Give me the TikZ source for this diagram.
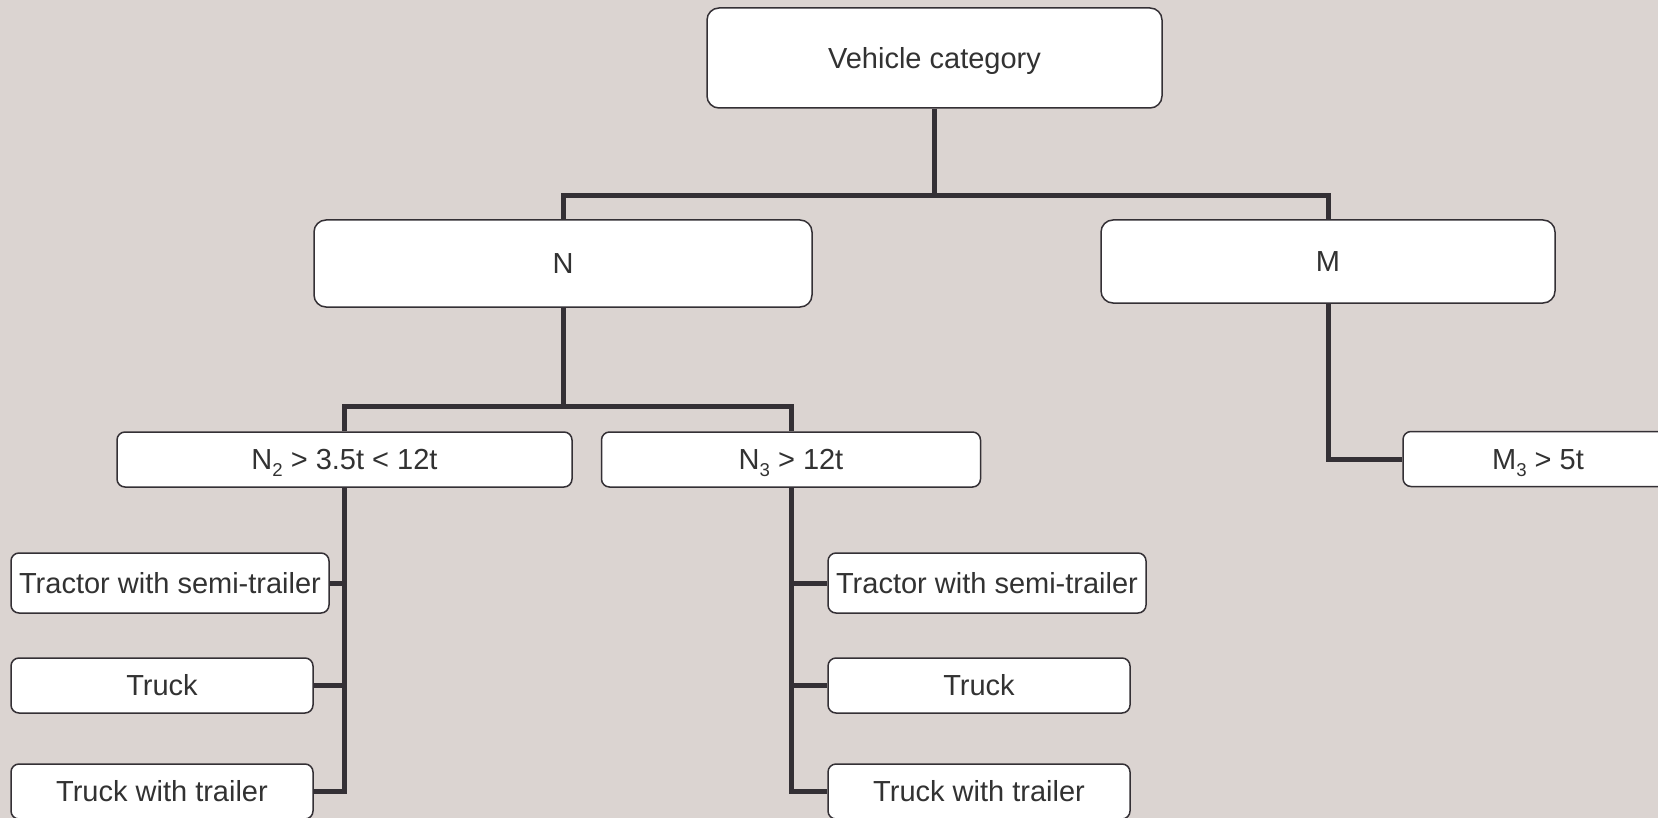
\documentclass[tikz,border=0pt]{standalone}
\usepackage{fontspec}
\setmainfont{Liberation Sans}
\usetikzlibrary{positioning,calc}
\definecolor{vcbg}{RGB}{219,212,209}
\definecolor{vcline}{RGB}{52,48,53}
\definecolor{vctext}{RGB}{50,50,50}
\newcommand\catsub[1]{\raisebox{-3.3pt}{\fontsize{9.3}{10}\selectfont#1}}
\tikzset{catbox/.style={draw=vcline,fill=white,rounded corners=6pt,line width=.75pt,inner sep=0pt,align=center,text=vctext,text height=10.4pt,text depth=0pt,font=\fontsize{14.5}{17}\selectfont},
  subbox/.style={catbox,rounded corners=4pt,minimum height=27.5pt},
  branch/.style={vcline,line width=2.5pt}}

\begin{document}
\begin{tikzpicture}[x=.5pt,y=-.5pt]
\fill[vcbg] (0,0) rectangle (1658,818);
\useasboundingbox (0,0) rectangle (1658,818);
% top levels
\node[catbox,minimum width=227.5pt,minimum height=50pt] (veh) at (934.5,58) {Vehicle category};
\node[catbox,minimum width=249pt,minimum height=43.5pt] (ncat) at (563,263.5) {N};
\node[catbox,minimum width=227pt,minimum height=41.5pt] (mcat) at (1328,261.5) {M};
\node[subbox,minimum width=227.5pt] (ntwo) at (344.5,459.5) {N\catsub{2} > 3.5t < 12t};
\node[subbox,minimum width=189.5pt] (nthree) at (791,459.5) {N\catsub{3} > 12t};
\node[subbox,minimum width=135pt] (mthree) at (1538,459) {M\catsub{3} > 5t};
% vehicle types
\node[subbox,minimum width=159pt,minimum height=30pt] (ltract) at (170,583) {Tractor with semi-trailer};
\node[subbox,minimum width=151pt] (ltruck) at (162,685.5) {Truck};
\node[subbox,minimum width=151pt] (ltrail) at (162,791.5) {Truck with trailer};
\node[subbox,minimum width=159pt,minimum height=30pt] (rtract) at (987,583) {Tractor with semi-trailer};
\node[subbox,minimum width=151pt] (rtruck) at (979,685.5) {Truck};
\node[subbox,minimum width=151pt] (rtrail) at (979,791.5) {Truck with trailer};
% branches
\coordinate (topbus) at (934.5,196);
\coordinate (nbus) at (563,406);
\draw[branch] (veh.south) -- (topbus);
\draw[branch] (ncat.north) |- (topbus) -| (mcat.north);
\draw[branch] (ncat.south) -- (nbus);
\draw[branch] (ntwo.north) |- (nbus) -| (nthree.north);
\draw[branch] (mcat.south) |- (mthree.west);
\draw[branch] (ntwo.south) |- (ltrail.east);
\draw[branch] (ltract.east) -- (ltract.east -| ntwo.south);
\draw[branch] (ltruck.east) -- (ltruck.east -| ntwo.south);
\draw[branch] (nthree.south) |- (rtrail.west);
\draw[branch] (rtract.west) -- (rtract.west -| nthree.south);
\draw[branch] (rtruck.west) -- (rtruck.west -| nthree.south);
\end{tikzpicture}
\end{document}
